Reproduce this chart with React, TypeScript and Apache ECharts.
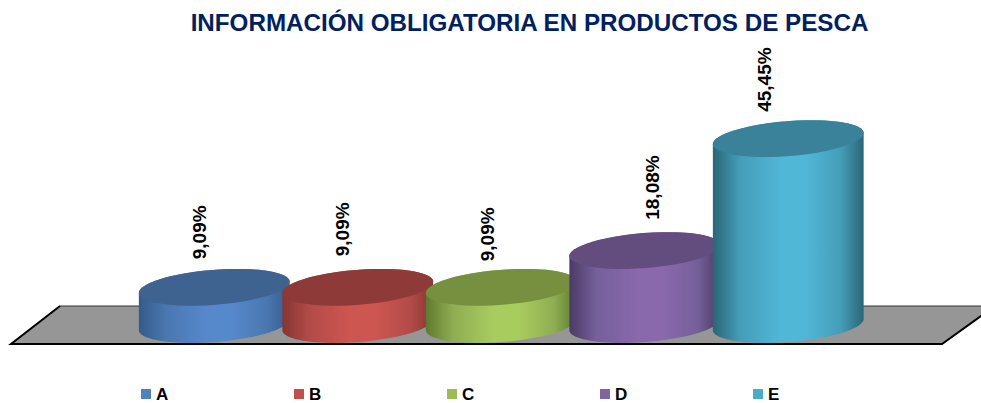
import React, { useEffect, useRef } from "react";
import * as echarts from "echarts";

const titleText = "INFORMACIÓN OBLIGATORIA EN PRODUCTOS DE PESCA";
const categories = ["A", "B", "C", "D", "E"];
const values = [9.09, 9.09, 9.09, 18.08, 45.45];

const legendColors = ["#4F81BD", "#C0504D", "#9BBB59", "#8064A2", "#4BACC6"];
const topColors = ["#3E6390", "#8E3A39", "#76903F", "#634C7E", "#39829A"];
const lightColors = ["#5688CC", "#CE5650", "#A9CC5E", "#8968AC", "#51B7D6"];
const midColors = ["#4A77B0", "#B24B48", "#8FAD52", "#75609A", "#449DB8"];
const edgeColors = ["#345A8A", "#853634", "#5F7A30", "#4C3A66", "#2A6676"];
const labelOffsets = [[-15, -55], [-15, -58], [-14, -53], [8, -63], [-24, -59]];

const FONT = '"Liberation Sans", Arial, sans-serif';
const TILT = (4.5 * Math.PI) / 180;
const RY = 17.5;

function ellipsePoint(cx: number, cy: number, a: number, b: number, t: number) {
  const c = Math.cos(t), s = Math.sin(t);
  return [
    cx + a * c * Math.cos(TILT) + b * s * Math.sin(TILT),
    cy - a * c * Math.sin(TILT) + b * s * Math.cos(TILT),
  ];
}
function arc(cx: number, cy: number, a: number, b: number, from: number, to: number) {
  const pts: number[][] = [];
  const n = 48;
  for (let i = 0; i <= n; i++) pts.push(ellipsePoint(cx, cy, a, b, from + ((to - from) * i) / n));
  return pts;
}

function makeRenderItem(idx: number) {
  return (_params: any, api: any) => {
    const v = api.value(1);
    const top = api.coord([api.value(0), v]);
    const base = api.coord([api.value(0), 0]);
    const a = api.size([1, 0])[0] * 0.527;
    const cx = top[0];
    const body = [
      ...arc(cx, top[1], a, RY, Math.PI, 2 * Math.PI),
      ...arc(cx, base[1], a, RY, 0, Math.PI),
    ];
    const off = labelOffsets[idx];
    return {
      type: "group",
      children: [
        {
          type: "polygon",
          shape: { points: body },
          style: {
            fill: new echarts.graphic.LinearGradient(0, 0, 1, 0, [
              { offset: 0, color: edgeColors[idx] },
              { offset: 0.18, color: midColors[idx] },
              { offset: 0.45, color: lightColors[idx] },
              { offset: 0.62, color: lightColors[idx] },
              { offset: 0.85, color: midColors[idx] },
              { offset: 1, color: edgeColors[idx] },
            ]),
          },
        },
        {
          type: "polygon",
          shape: { points: arc(cx, top[1], a, RY, 0, 2 * Math.PI) },
          style: { fill: topColors[idx] },
        },
        {
          type: "text",
          x: cx + off[0],
          y: top[1] + off[1],
          rotation: Math.PI / 2,
          style: {
            text: v.toFixed(2).replace(".", ",") + "%",
            fill: "#000",
            font: `bold 19px ${FONT}`,
            align: "center",
            verticalAlign: "middle",
          },
        },
      ],
    };
  };
}

export default function App() {
  const ref = useRef<HTMLDivElement>(null);
  useEffect(() => {
    const chart = echarts.init(ref.current!, undefined, { renderer: "svg" });
    chart.setOption({
      animation: false,
      backgroundColor: "#fff",
      title: {
        text: titleText,
        left: 524.5,
        top: 5,
        textAlign: "center",
        textStyle: { fontFamily: FONT, fontWeight: "bold", fontSize: 24.2, color: "#002060" },
      },
      grid: { left: 142.5, width: 717.5, top: 120, height: 204.5 },
      xAxis: { type: "category", data: categories, show: false },
      yAxis: { type: "value", min: 0, max: 50, show: false },
      legend: categories.map((name, i) => ({
        data: [name],
        left: 141 + 153 * i,
        top: 385.5,
        padding: 0,
        itemWidth: 10,
        itemHeight: 10,
        itemGap: 0,
        icon: "rect",
        selectedMode: false,
        textStyle: { fontFamily: FONT, fontWeight: "bold", fontSize: 17, color: "#000" },
      })),
      graphic: [
        {
          type: "polygon",
          z: 0,
          shape: { points: [[60, 306], [995, 306], [942, 344], [11, 344]] },
          style: { fill: "#969696", stroke: "#333", lineWidth: 1 },
        },
        {
          type: "polyline",
          z: 1,
          shape: { points: [[60, 306], [11, 344], [942, 344], [995, 306]] },
          style: { fill: "none", stroke: "#000", lineWidth: 2 },
        },
      ],
      series: categories.map((name, i) => ({
        type: "custom",
        name,
        coordinateSystem: "cartesian2d",
        itemStyle: { color: legendColors[i] },
        encode: { x: 0, y: 1 },
        data: [[i, values[i]]],
        renderItem: makeRenderItem(i),
        z: 2 + i,
      })),
    });
    return () => chart.dispose();
  }, []);
  return <div ref={ref} style={{ position: "absolute", left: 0, top: 0, width: 981, height: 403 }} />;
}
